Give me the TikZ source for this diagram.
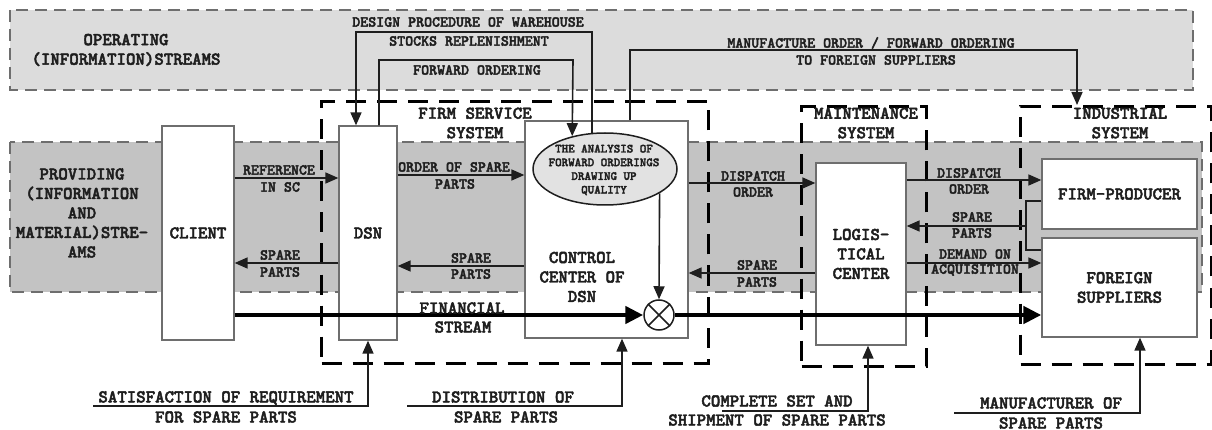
\documentclass[tikz,border=0pt]{standalone}
\usepackage{fontspec}
\newfontfamily\cour{lmmonolt10-bold.otf}[FakeBold=2.5]
\usetikzlibrary{arrows.meta,shapes.geometric}
\definecolor{bandA}{HTML}{DCDCDC}
\definecolor{bandB}{HTML}{C3C3C3}
\definecolor{ellfill}{HTML}{E2E2E2}
\definecolor{edge}{HTML}{6E6E6E}
\definecolor{ink}{HTML}{1E1E1E}
\newcommand\fbig{\cour\fontsize{18}{19.5}\selectfont}
\newcommand\fmid{\cour\fontsize{15.2}{17}\selectfont}
\newcommand\fsml{\cour\fontsize{12.4}{13.7}\selectfont}
\begin{document}
\begin{tikzpicture}[x=1pt,y=-1pt,
  band/.style={draw=edge, line width=1.5pt, dash pattern=on 12pt off 7pt},
  frame/.style={draw=black, line width=3pt, dash pattern=on 20pt off 11pt, rectangle, inner sep=0, anchor=north west},
  blk/.style={draw=edge, line width=1.3pt, fill=white, rectangle, inner sep=0, align=center, text=ink, font=\fbig},
  big/.style={font=\fbig, text=ink, align=center, inner sep=0},
  mid/.style={font=\fmid, text=ink, align=center, inner sep=0},
  arr/.style={line width=1.6pt, draw=ink, -{Triangle[length=13pt,width=11pt]}},
  ln/.style={line width=1.6pt, draw=ink},
  fin/.style={line width=4.5pt, draw=black, -{Triangle[length=18pt,width=17pt]}},
]
\useasboundingbox (0,0) rectangle (1212,430);

% bands
\draw[band, fill=bandA] (10,10) rectangle (1193,90);
\draw[band, fill=bandB] (10,142) rectangle (1202,292);

% system frames
\node[frame, minimum width=387pt, minimum height=262pt] (fss) at (320,100) {};
\node[frame, minimum width=125pt, minimum height=260pt] (mnt) at (800,105) {};
\node[frame, minimum width=191pt, minimum height=258pt] (ind) at (1019,105) {};

% boxes
\node[blk, minimum width=72pt, minimum height=214pt] (client) at (198,233) {CLIENT};
\node[blk, minimum width=58pt, minimum height=214pt] (dsn) at (368,233) {DSN};
\node[blk, minimum width=163pt, minimum height=217pt] (cc) at (606.5,229.5) {};
\node[big] (cct) at (582,277) {CONTROL\\CENTER OF\\DSN};
\node[blk, minimum width=90pt, minimum height=182pt] (log) at (861,254) {LOGIS-\\TICAL\\CENTER};
\node[blk, minimum width=155pt, minimum height=70pt] (fp) at (1119.5,194) {FIRM-PRODUCER};
\node[blk, minimum width=155pt, minimum height=99pt] (fs) at (1119.5,287.5) {FOREIGN\\SUPPLIERS};

% ellipse
\node[ellipse, draw=ink, line width=1.5pt, fill=ellfill, minimum width=144pt, minimum height=72pt, inner sep=0] (ell) at (605,169) {};
\node[font=\fsml, text=ink, align=center, inner sep=0] (ellT) at (604,170) {THE ANALYSIS OF\\FORWARD ORDERINGS\\DRAWING UP\\QUALITY};

% band labels
\node[big] (opl) at (126,50) {OPERATING\\(INFORMATION)STREAMS};
\node[big] (prl) at (82,213) {PROVIDING\\(INFORMATION\\AND\\MATERIAL)STRE-\\AMS};
\node[big] (fssl) at (475,123) {FIRM SERVICE\\SYSTEM};
\node[big] (mntl) at (866,123) {MAINTENANCE\\SYSTEM};
\node[big] (indl) at (1120,123) {INDUSTRIAL\\SYSTEM};

% middle band arrows
\draw[arr] (client.east |- 0,178) -- (dsn.west |- 0,178);
\node[mid] (l1a) at (279,170) {REFERENCE};
\node[mid] (l1b) at (280,187) {IN SC};
\draw[arr] (dsn.west |- 0,263) -- (client.east |- 0,263);
\node[mid] (l2a) at (280,255) {SPARE};
\node[mid] (l2b) at (280,272) {PARTS};
\draw[arr] (dsn.east |- 0,175) -- (cc.west |- 0,175);
\node[mid] (l3a) at (454,167) {ORDER OF SPARE};
\node[mid] (l3b) at (455,184) {PARTS};
\draw[arr] (cc.west |- 0,266) -- (dsn.east |- 0,266);
\node[mid] (l4a) at (471,258) {SPARE};
\node[mid] (l4b) at (471,274) {PARTS};
\draw[arr] (cc.east |- 0,183) -- (log.west |- 0,183);
\node[mid] (l5a) at (753,176) {DISPATCH};
\node[mid] (l5b) at (753,192) {ORDER};
\draw[arr] (log.west |- 0,273) -- (cc.east |- 0,273);
\node[mid] (l6a) at (757,265) {SPARE};
\node[mid] (l6b) at (757,282) {PARTS};
\draw[arr] (log.east |- 0,180) -- (fp.west |- 0,180);
\node[mid] (l7a) at (969,173) {DISPATCH};
\node[mid] (l7b) at (969,189) {ORDER};
\coordinate (br) at (1026,226);
\draw[ln] (fp.west |- 0,201) -| (1026,250) -- (fs.west |- 0,250);
\draw[arr] (br) -- (log.east |- br);
\node[mid] (l8a) at (972,217) {SPARE};
\node[mid] (l8b) at (972,233) {PARTS};
\draw[arr] (log.east |- 0,263) -- (fs.west |- 0,263);
\node[mid] (l9a) at (975,254) {DEMAND ON};
\node[mid] (l9b) at (975,270) {ACQUISITION};

% top band arrows
\draw[arr] (ell.110) |- (356,32) -- (dsn.north -| 356,0);
\node[mid] (t1a) at (468,22) {DESIGN PROCEDURE OF WAREHOUSE};
\node[mid] (t1b) at (469,41) {STOCKS REPLENISHMENT};
\draw[arr] (dsn.north -| 379,0) |- (573,60) -- (ell.135);
\node[mid] (t2) at (477,70) {FORWARD ORDERING};
\draw[arr] (cc.north -| 630,0) |- (1077,50) -- (ind.north -| 1077,0);
\node[mid] (t3a) at (871,43) {MANUFACTURE ORDER / FORWARD ORDERING};
\node[mid] (t3b) at (876,60) {TO FOREIGN SUPPLIERS};

% financial stream
\node[circle, draw=ink, line width=1.5pt, fill=white, minimum size=30pt, inner sep=0] (circ) at (659,315) {};
\draw[arr] (ell.-24) -- (circ.north);
\draw[fin] (client.east |- 0,315) -- (circ.west);
\draw[fin] (circ.east) -- (fs.west |- 0,315);
\draw[ln] (circ.45) -- (circ.225) (circ.135) -- (circ.-45);
\node[big] (f1) at (462,308) {FINANCIAL};
\node[big] (f2) at (463,327) {STREAM};

% bottom inputs
\draw[arr] (93,406) -| (dsn.south);
\node[big] (b1a) at (226,398) {SATISFACTION OF REQUIREMENT};
\node[big] (b1b) at (226,417) {FOR SPARE PARTS};
\draw[arr] (407,406) -| (cc.south -| 622,0);
\node[big] (b2a) at (503,397) {DISTRIBUTION OF};
\node[big] (b2b) at (506,417) {SPARE PARTS};
\draw[arr] (722,411) -| (log.south -| 868,0);
\node[big] (b3a) at (777,401) {COMPLETE SET AND};
\node[big] (b3b) at (777,420) {SHIPMENT OF SPARE PARTS};
\draw[arr] (954,413) -| (fs.south -| 1140,0);
\node[big] (b4a) at (1051,403) {MANUFACTURER OF};
\node[big] (b4b) at (1051,423) {SPARE PARTS};
\end{tikzpicture}
\end{document}
